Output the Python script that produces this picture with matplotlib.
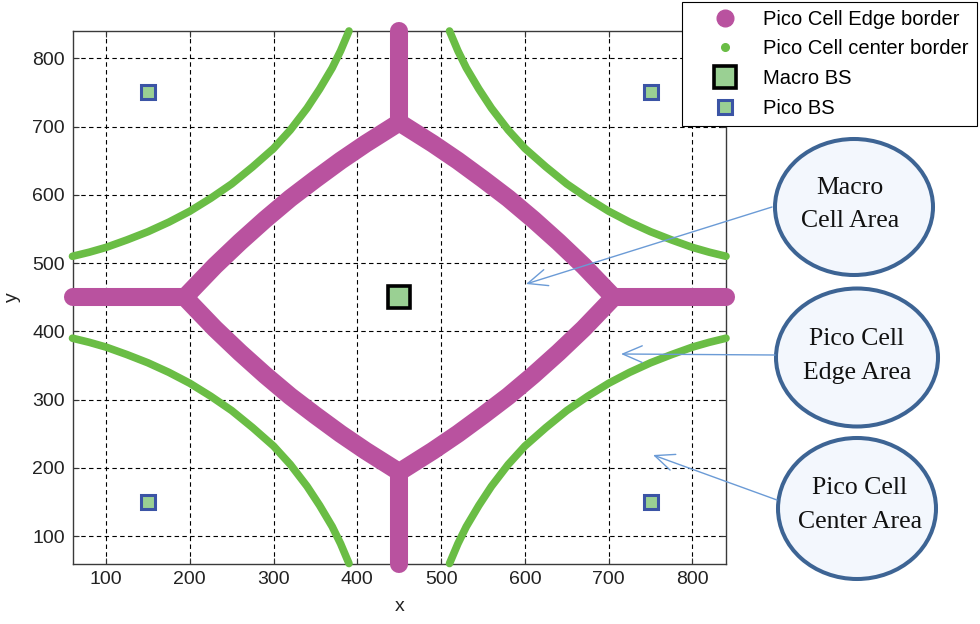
import matplotlib.pyplot as plt
from matplotlib.lines import Line2D
from matplotlib.patches import Ellipse

plt.rcParams['font.family'] = ['Liberation Sans', 'DejaVu Sans']

# base stations
macro_x = [450]
macro_y = [450]
pico_x = [150, 150, 750, 750]
pico_y = [150, 750, 150, 750]

# pico cell edge border: closed ring around the macro cell
edge_x = [194, 230, 260, 290, 320, 350, 380, 410, 450,
          490, 520, 550, 580, 610, 640, 670, 706,
          670, 640, 610, 580, 550, 520, 490, 450,
          410, 380, 350, 320, 290, 260, 230, 194]
edge_y = [450, 496, 531, 564, 595, 623, 650, 675, 706,
          675, 650, 623, 595, 564, 531, 496, 450,
          404, 369, 336, 305, 277, 250, 225, 194,
          225, 250, 277, 305, 336, 369, 404, 450]

# edge border between neighbouring pico cells
stub_top_x, stub_top_y = [450, 450], [706, 840]
stub_bot_x, stub_bot_y = [450, 450], [60, 194]
stub_left_x, stub_left_y = [60, 194], [450, 450]
stub_right_x, stub_right_y = [706, 840], [450, 450]

# pico cell center border, one arc per pico
ctr_ul_x = [60, 80, 100, 125, 150, 175, 200, 225, 250, 275, 300, 320, 340, 355, 370, 380, 390]
ctr_ul_y = [510, 516, 523, 534, 546, 560, 576, 595, 616, 641, 668, 695, 727, 755, 786, 811, 840]
ctr_ur_x = [840, 820, 800, 775, 750, 725, 700, 675, 650, 625, 600, 580, 560, 545, 530, 520, 510]
ctr_ur_y = [510, 516, 523, 534, 546, 560, 576, 595, 616, 641, 668, 695, 727, 755, 786, 811, 840]
ctr_ll_x = [60, 80, 100, 125, 150, 175, 200, 225, 250, 275, 300, 320, 340, 355, 370, 380, 390]
ctr_ll_y = [390, 384, 377, 366, 354, 340, 324, 305, 284, 259, 232, 205, 173, 145, 114, 89, 60]
ctr_lr_x = [840, 820, 800, 775, 750, 725, 700, 675, 650, 625, 600, 580, 560, 545, 530, 520, 510]
ctr_lr_y = [390, 384, 377, 366, 354, 340, 324, 305, 284, 259, 232, 205, 173, 145, 114, 89, 60]

ticks = [100, 200, 300, 400, 500, 600, 700, 800]

magenta = '#b9529f'
green = '#6abd45'
sq_fill = '#9ad093'
pico_edge = '#3b54a5'

W, H = 980, 624
fig = plt.figure(figsize=(W / 100, H / 100), dpi=100)
ax = fig.add_axes([72.5 / W, 1 - 563.5 / H, (726 - 72.5) / W, (563.5 - 31) / H])

for cx, cy in [(ctr_ul_x, ctr_ul_y), (ctr_ur_x, ctr_ur_y),
               (ctr_ll_x, ctr_ll_y), (ctr_lr_x, ctr_lr_y)]:
    ax.plot(cx, cy, color=green, lw=5.5, solid_capstyle='round',
            solid_joinstyle='round', clip_on=False, zorder=3)

ax.plot(edge_x, edge_y, color=magenta, lw=13, solid_capstyle='round',
        solid_joinstyle='round', clip_on=False, zorder=4)
for sx, sy in [(stub_top_x, stub_top_y), (stub_bot_x, stub_bot_y),
               (stub_left_x, stub_left_y), (stub_right_x, stub_right_y)]:
    ax.plot(sx, sy, color=magenta, lw=13, solid_capstyle='round',
            clip_on=False, zorder=4)

ax.plot(pico_x, pico_y, ls='none', marker='s', ms=9.4, mfc=sq_fill,
        mec=pico_edge, mew=2.2, zorder=5)
ax.plot(macro_x, macro_y, ls='none', marker='s', ms=16.5, mfc=sq_fill,
        mec='black', mew=2.6, zorder=5)

ax.set_xlim(60, 840)
ax.set_ylim(60, 840)
ax.set_xticks(ticks)
ax.set_yticks(ticks)
ax.grid(True, color='black', linestyle=(0, (4, 3)), lw=0.8)
ax.set_axisbelow(True)
ax.tick_params(direction='in', length=4, top=True, right=True,
               labelsize=14, pad=5.5, color='#333333', labelcolor='#222222')
for sp in ax.spines.values():
    sp.set_color('#3a3a3a')
    sp.set_linewidth(1.0)
ax.set_xlabel('x', fontsize=14, labelpad=7, color='#222222')
ax.set_ylabel('y', fontsize=14, labelpad=8, color='#222222')

handles = [
    Line2D([], [], ls='none', marker='o', ms=12, color=magenta),
    Line2D([], [], ls='none', marker='o', ms=5.5, color=green),
    Line2D([], [], ls='none', marker='s', ms=16.5, mfc=sq_fill, mec='black', mew=2.6),
    Line2D([], [], ls='none', marker='s', ms=9.4, mfc=sq_fill, mec=pico_edge, mew=2.2),
]
labels = ['Pico Cell Edge border', 'Pico Cell center border', 'Macro BS', 'Pico BS']
leg = fig.legend(handles, labels, loc='upper right',
                 bbox_to_anchor=(976.7 / W, 1 - 1.7 / H), borderaxespad=0,
                 fontsize=14.5, fancybox=False, edgecolor='black', framealpha=1,
                 handlelength=3.47, handletextpad=0.15, labelspacing=0.53,
                 borderpad=0.4)
leg.get_frame().set_linewidth(0.8)

# callout bubbles, laid out in figure pixels
ov = fig.add_axes([0, 0, 1, 1])
ov.set_zorder(1)
ov.set_xlim(0, W)
ov.set_ylim(H, 0)
ov.axis('off')
ov.patch.set_alpha(0)

bubbles = [((854, 207), 158, 136, (850, 204.5), 'Macro\nCell Area', (772, 207), (526, 284)),
           ((857, 357.5), 162, 138, (857, 356), 'Pico Cell\nEdge Area', (775, 355), (621, 354)),
           ((857, 508.5), 158, 141, (860, 505), 'Pico Cell\nCenter Area', (777, 500), (653, 455))]
for c, w, h, tpos, txt, tail, tip in bubbles:
    ov.annotate('', xy=tip, xytext=tail,
                arrowprops=dict(arrowstyle='->, head_length=0.7, head_width=0.3',
                                color='#6b9bd6', lw=1.0, mutation_scale=20,
                                shrinkA=0, shrinkB=0))
    ov.add_patch(Ellipse(c, w, h, facecolor='#f3f7fd', edgecolor='#3d6494', lw=2.9))
    ov.text(tpos[0], tpos[1], txt, ha='center', va='center', fontsize=18.5,
            family=['Liberation Serif'], linespacing=1.65, color='#111111')

fig.savefig('out.png', dpi=100)
